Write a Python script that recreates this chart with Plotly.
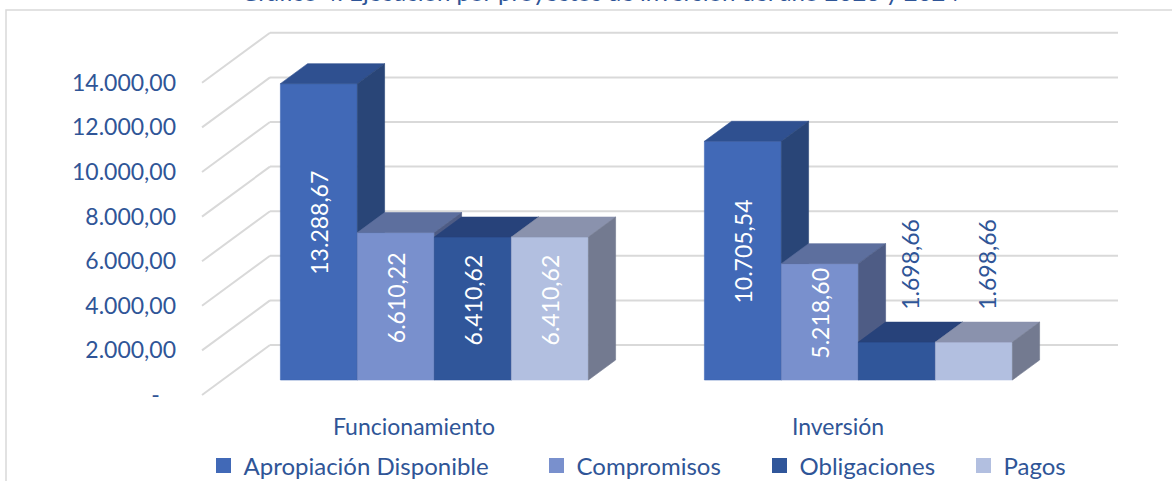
import plotly.graph_objects as go

# ---------------- data ----------------
categories = ["Funcionamiento", "Inversión"]
series_names = ["Apropiación Disponible", "Compromisos", "Obligaciones", "Pagos"]
apropiacion = [13288.67, 10705.54]
compromisos = [6610.22, 5218.60]
obligaciones = [6410.62, 1698.66]
pagos = [6410.62, 1698.66]
y_ticks = [0, 2000, 4000, 6000, 8000, 10000, 12000, 14000]
title_text = "Gráfico 4. Ejecución por proyectos de inversión del año 2023 y 2024"

series_values = [apropiacion, compromisos, obligaciones, pagos]

# ---------------- style ----------------
front_colors = ["#4169B7", "#7990CD", "#30569A", "#B2BFE0"]
top_colors = ["#2F5090", "#5D6F9E", "#27427A", "#8A92AD"]
side_colors = ["#294577", "#4E5C85", "#223B6B", "#737A90"]
TEXT_COLOR = "#2F5597"
GRID_COLOR = "#D9D9D9"
FONT = "Lato"
FS = 23

W, H = 1172, 481
L, R, T, B = 180, 1140, 20, 405          # plot area in pixels
FRONT_X0, FLOOR_Y0 = 202, 395            # pixel of (x=0, y=0) on the front plane
PX_X = 424.0                             # pixels per category
PX_Y = 44.6 / 2000                       # pixels per unit
xr = [(L - FRONT_X0) / PX_X, (R - FRONT_X0) / PX_X]
yr = [-(B - FLOOR_Y0) / PX_Y, (FLOOR_Y0 - T) / PX_Y]
DX, DY = 68 / PX_X, 50 / PX_Y            # full depth vector
F_FRONT, F_BACK = 0.3, 0.7
ddx, ddy = (F_BACK - F_FRONT) * DX, (F_BACK - F_FRONT) * DY
GROUP_W = 0.7264
BAR_W = GROUP_W / len(series_names)


def es_fmt(v):
    s = f"{v:,.2f}"
    return s.replace(",", "X").replace(".", ",").replace("X", ".")


def px_to_paper_x(px):
    return (px - L) / (R - L)


def px_to_paper_y(py):
    return (B - py) / (B - T)


fig = go.Figure()
shapes = []
annotations = []

# side wall diagonals + back wall gridlines
for v in y_ticks:
    shapes.append(dict(type="line", xref="x", yref="y", x0=0, y0=v, x1=DX, y1=v + DY,
                       line=dict(color=GRID_COLOR, width=2), layer="below"))
    shapes.append(dict(type="line", xref="x", yref="y", x0=DX, y0=v + DY,
                       x1=len(categories) + DX, y1=v + DY,
                       line=dict(color=GRID_COLOR, width=2), layer="below"))

# chart frame
shapes.append(dict(type="rect", xref="paper", yref="paper",
                   x0=px_to_paper_x(6), x1=px_to_paper_x(1180),
                   y0=px_to_paper_y(495), y1=px_to_paper_y(10),
                   line=dict(color=GRID_COLOR, width=1.5), layer="below"))


def poly(xs, ys, color):
    fig.add_trace(go.Scatter(x=xs + [xs[0]], y=ys + [ys[0]], mode="lines", fill="toself",
                             fillcolor=color, line=dict(color=color, width=0.6),
                             hoverinfo="skip", showlegend=False))


for ci, cat in enumerate(categories):
    xc = ci + 0.5
    for si, name in enumerate(series_names):
        v = series_values[si][ci]
        a = xc - GROUP_W / 2 + si * BAR_W + F_FRONT * DX
        b = a + BAR_W
        yb = F_FRONT * DY
        yt = yb + v
        # front face
        poly([a, b, b, a], [yb, yb, yt, yt], front_colors[si])
        # top face
        poly([a, b, b + ddx, a + ddx], [yt, yt, yt + ddy, yt + ddy], top_colors[si])
        # side face
        poly([b, b + ddx, b + ddx, b], [yb, yb + ddy, yt + ddy, yt], side_colors[si])

        label = es_fmt(v)
        text_px = 0.52 * FS * len(label)
        bar_px = v * PX_Y
        if text_px + 12 < bar_px:
            annotations.append(dict(x=(a + b) / 2, y=(yb + yt) / 2 + 9 / PX_Y, xref="x", yref="y",
                                    text=label, textangle=-90, showarrow=False,
                                    font=dict(family=FONT, size=FS, color="white")))
        else:
            annotations.append(dict(x=(a + b) / 2 + ddx / 2,
                                    y=yt + ddy + (10 + text_px / 2) / PX_Y, xref="x", yref="y",
                                    text=label, textangle=-90, showarrow=False,
                                    font=dict(family=FONT, size=FS, color=TEXT_COLOR)))

# legends (one per entry so each can sit where the reference shows it)
legend_left_px = [203.5, 536.5, 759.5, 963.5]
legend_keys = ["legend", "legend2", "legend3", "legend4"]
for si, name in enumerate(series_names):
    fig.add_trace(go.Scatter(x=[None], y=[None], mode="markers", name=name,
                             marker=dict(symbol="square", size=15, color=front_colors[si]),
                             legend=legend_keys[si], hoverinfo="skip"))

legend_layout = {}
for key, lx in zip(legend_keys, legend_left_px):
    legend_layout[key] = dict(orientation="h", x=px_to_paper_x(lx), xanchor="left",
                              y=px_to_paper_y(466), yanchor="middle",
                              font=dict(family=FONT, size=FS + 1, color=TEXT_COLOR),
                              bgcolor="rgba(0,0,0,0)", borderwidth=0)

# title (cut off at the top edge, as in the reference)
annotations.append(dict(x=px_to_paper_x(600), y=px_to_paper_y(8), xref="paper", yref="paper",
                        xanchor="center", yanchor="bottom", text=title_text, showarrow=False,
                        font=dict(family=FONT, size=24, color=TEXT_COLOR)))

tick_text = [es_fmt(t) if t != 0 else "-\u2007\u2009" for t in y_ticks]

fig.update_layout(
    width=W, height=H,
    margin=dict(l=L, r=W - R, t=T, b=H - B, autoexpand=False),
    paper_bgcolor="white", plot_bgcolor="white",
    showlegend=True,
    hovermode=False,
    shapes=shapes,
    annotations=annotations,
    font=dict(family=FONT, size=FS, color=TEXT_COLOR),
    xaxis=dict(range=xr, tickvals=[i + 0.5 for i in range(len(categories))], ticktext=categories,
               showgrid=False, zeroline=False, showline=False, ticks="",
               ticklabelstandoff=6,
               tickfont=dict(family=FONT, size=FS, color=TEXT_COLOR), fixedrange=True),
    yaxis=dict(range=yr, tickvals=y_ticks, ticktext=tick_text,
               showgrid=False, zeroline=False, showline=False, ticks="",
               ticklabelstandoff=3,
               tickfont=dict(family=FONT, size=FS, color=TEXT_COLOR), fixedrange=True),
    **legend_layout,
)

fig.write_html("out.html", config={"displayModeBar": False},
               post_script="document.body.style.margin='0';document.body.style.overflow='hidden';")
